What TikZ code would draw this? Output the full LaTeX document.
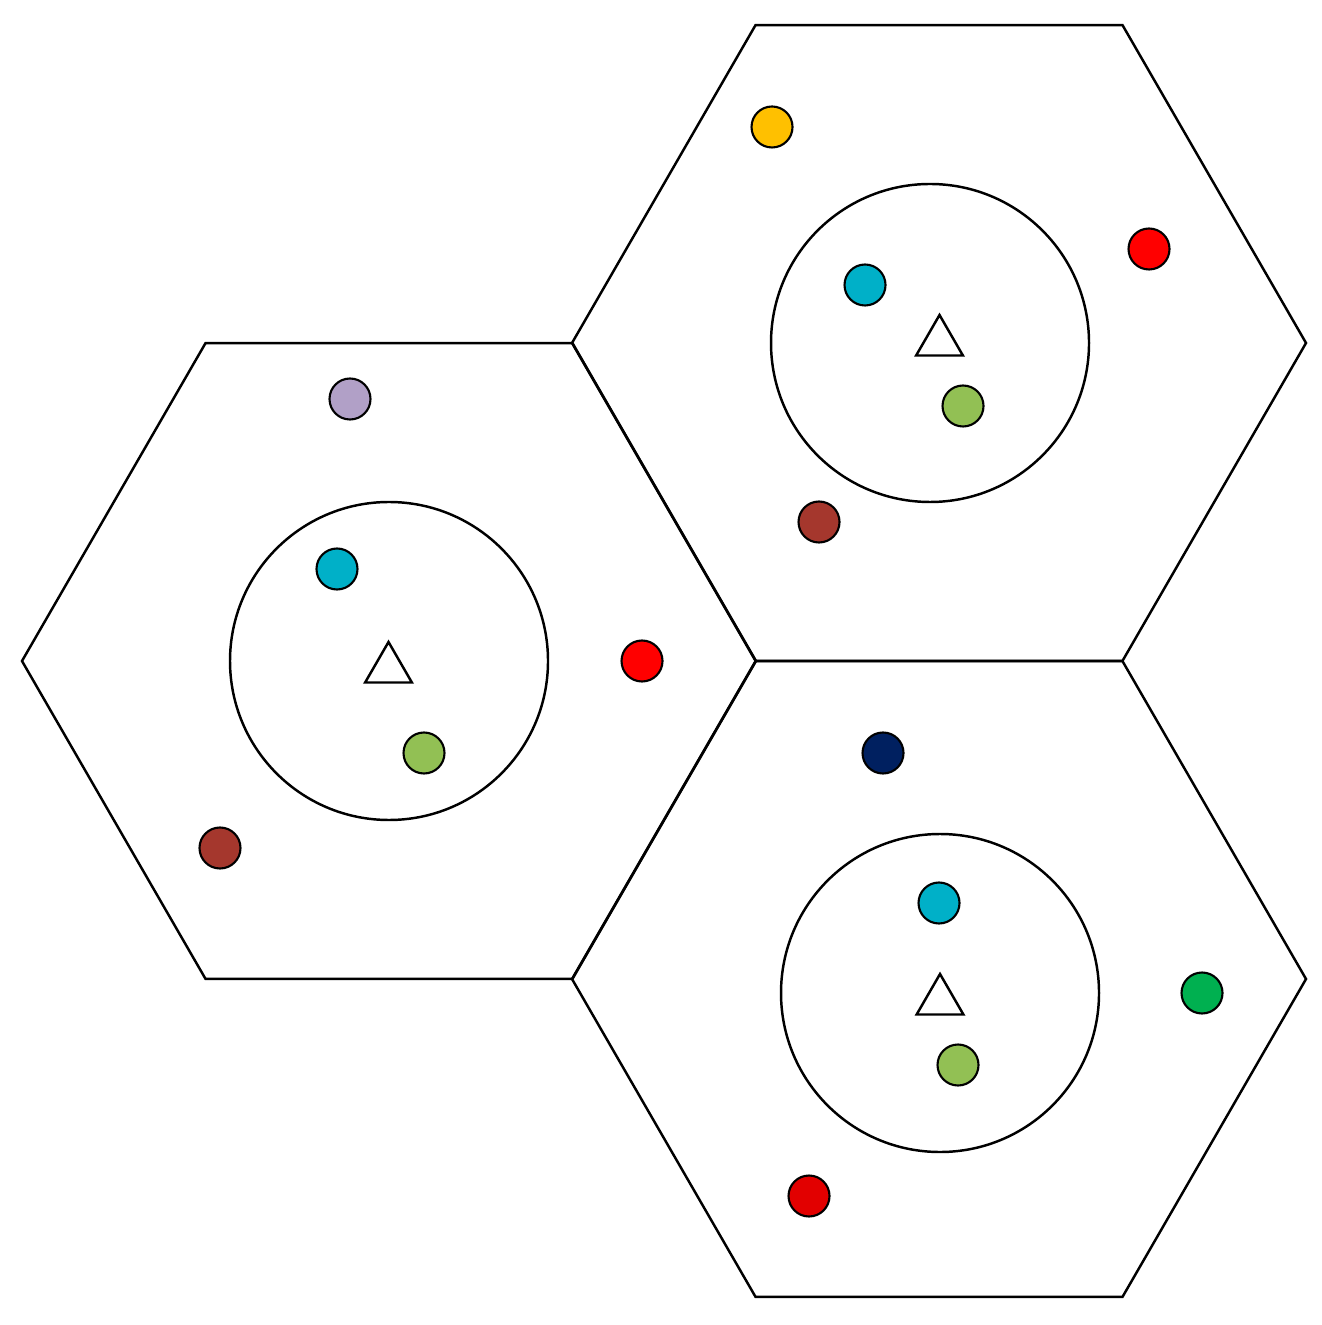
\documentclass[tikz,border=0pt]{standalone}
\usepackage[usenames,dvipsnames]{xcolor}
\usepackage{tikz}
\usetikzlibrary{shapes}

\definecolor{uePurple}{RGB}{177,160,199}
\definecolor{ueCyan}{RGB}{0,176,200}
\definecolor{ueRed}{RGB}{255,0,0}
\definecolor{ueDarkRed}{RGB}{226,0,0}
\definecolor{ueLightGreen}{RGB}{146,192,84}
\definecolor{ueBrown}{RGB}{165,55,45}
\definecolor{ueYellow}{RGB}{255,192,0}
\definecolor{ueNavy}{RGB}{0,32,96}
\definecolor{ueGreen}{RGB}{0,176,80}

\begin{document}
\begin{tikzpicture}[x=0.1mm,y=-0.1mm,
  cell/.style={line width=0.7pt,line join=miter},
  zone/.style={draw,circle,line width=0.7pt,inner sep=0pt,outer sep=0pt,minimum size=31.8mm},
  bs/.style={draw,regular polygon,regular polygon sides=3,line width=0.7pt,inner sep=0pt,outer sep=0pt,minimum size=5.4mm},
  ue/.style={draw,circle,line width=0.6pt,inner sep=0pt,outer sep=0pt,minimum size=4.1mm}]
\useasboundingbox (0,0) rectangle (1321,1325);
% cell centres
\coordinate (cL) at (389,661);
\coordinate (cT) at (939,343);
\coordinate (cB) at (939,979);
\foreach \c in {cL,cT,cB}
  \draw[cell] (\c) ++(0:367) -- ++(120:367) -- ++(180:367) -- ++(240:367) -- ++(300:367) -- ++(0:367) -- cycle;
% inner zones
\node[zone] (zL) at (389,661) {};
\node[zone] (zT) at (930,343) {};
\node[zone] (zB) at (940,993) {};
% base stations
\node[bs] (bsL) at (388.5,669) {};
\node[bs] (bsT) at (939.5,342) {};
\node[bs] (bsB) at (940,1001) {};
% users, left cell
\node[ue,fill=uePurple] (uL1) at (350,399) {};
\node[ue,fill=ueCyan] (uL2) at (337,569) {};
\node[ue,fill=ueRed] (uL3) at (642,661) {};
\node[ue,fill=ueLightGreen] (uL4) at (424,753) {};
\node[ue,fill=ueBrown] (uL5) at (220,848) {};
% users, top cell
\node[ue,fill=ueYellow] (uT1) at (772,127) {};
\node[ue,fill=ueCyan] (uT2) at (865,285) {};
\node[ue,fill=ueRed] (uT3) at (1149,249) {};
\node[ue,fill=ueLightGreen] (uT4) at (963,406) {};
\node[ue,fill=ueBrown] (uT5) at (819,522) {};
% users, bottom cell
\node[ue,fill=ueNavy] (uB1) at (883,753) {};
\node[ue,fill=ueCyan] (uB2) at (939,903) {};
\node[ue,fill=ueGreen] (uB3) at (1202,993) {};
\node[ue,fill=ueLightGreen] (uB4) at (958,1065) {};
\node[ue,fill=ueDarkRed] (uB5) at (809,1196) {};
\end{tikzpicture}
\end{document}
